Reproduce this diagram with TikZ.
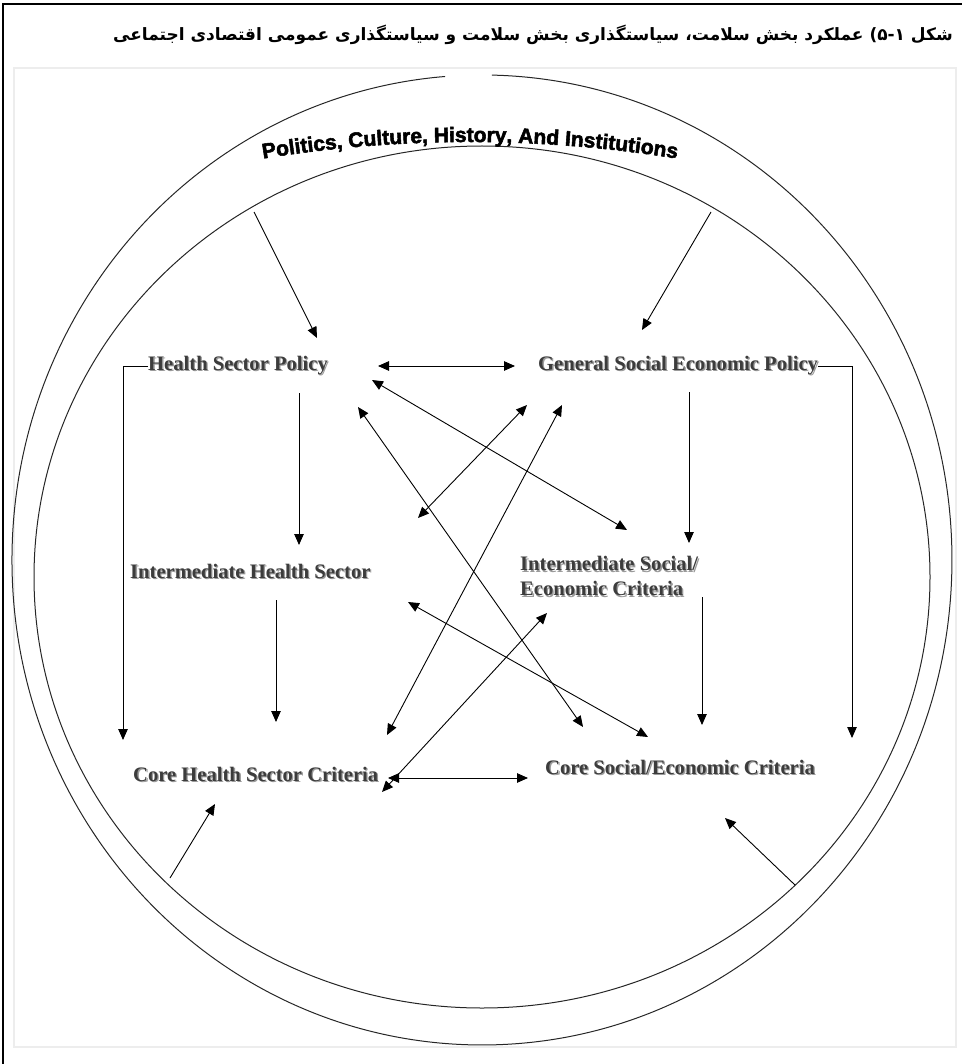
\documentclass[tikz,border=0pt]{standalone}
\usepackage{fontspec}
\setmainfont{Liberation Serif}
\newfontfamily\farsifont[Script=Arabic]{DejaVu Sans}
\newfontfamily\ringfont[FakeBold=2.5]{Liberation Sans}
\TeXXeTstate=1
\usetikzlibrary{arrows.meta,decorations.text}
\definecolor{hpink}{HTML}{000000}
\definecolor{hpgrey}{HTML}{3C3C3C}
\definecolor{hpshade}{HTML}{9A9A9A}
\definecolor{hppanel}{HTML}{EDEDED}
\newcommand\hpemboss[1]{\rlap{\kern1.3pt\raisebox{-1.3pt}{\color{hpshade}#1}}#1}
\tikzstyle{hplabel}=[text=hpgrey,font=\bfseries\fontsize{20.6}{25}\selectfont,inner sep=0pt,anchor=west,align=left]
\tikzstyle{hparrow}=[-{Triangle[length=11pt,width=9.5pt]},draw=hpink,line width=0.9pt]
\tikzstyle{hpboth}=[{Triangle[length=11pt,width=9.5pt]}-{Triangle[length=11pt,width=9.5pt]},draw=hpink,line width=0.9pt]
\tikzstyle{hpring}=[draw=black!85,line width=1pt]

\begin{document}
\begin{tikzpicture}[x=1pt,y=-1pt]
  \useasboundingbox (0,0) rectangle (962,1064);
  % ---- frame and caption ----
  \draw[line width=2pt] (3,1064) -- (3,4) -- (962,4);
  \draw[hppanel,line width=1.5pt] (14,68) rectangle (956,1047);
  \node[anchor=east,inner sep=0pt,font=\farsifont\bfseries\fontsize{17}{20}\selectfont] (cap) at (953,35)
    {\beginR شکل ۵-۱) عملکرد بخش سلامت، سیاستگذاری بخش سلامت و سیاستگذاری عمومی اقتصادی اجتماعی\endR};

  % ---- the two rings ----
  \draw[hpring] (491.8,75.1) arc[start angle=271.2,end angle=625.5,x radius=470,y radius=485];
  \draw[hpring] (482,577) ellipse[x radius=448,y radius=431];
  \path[decorate,decoration={text along path,text align=center,
      text={|\ringfont\bfseries\fontsize{21}{21}\selectfont|Politics, Culture, History, And Institutions}}]
    (210.8,168.1) arc[start angle=258.5,end angle=281.5,radius=1300];

  % ---- policy, intermediate and core labels ----
  \node[hplabel] (hsp)  at (148,366) {\hpemboss{Health Sector Policy}};
  \node[hplabel] (gsep) at (538,366) {\hpemboss{General Social Economic Policy}};
  \node[hplabel] (ihs)  at (130,572) {\hpemboss{Intermediate Health Sector}};
  \node[hplabel] (isec) at (520,577) {\hpemboss{Intermediate Social/}\\\hpemboss{Economic Criteria}};
  \node[hplabel] (chs)  at (133,775) {\hpemboss{Core Health Sector Criteria}};
  \node[hplabel] (cse)  at (545,768) {\hpemboss{Core Social/Economic Criteria}};

  % ---- connector ends ----
  \coordinate (rtl) at (254,212);   \coordinate (rtr) at (711,212);
  \coordinate (rbl) at (170,878);   \coordinate (rbr) at (795,885);
  \coordinate (hspT) at (317,338);  \coordinate (hspE) at (378,366);
  \coordinate (hspD1) at (372,380); \coordinate (hspD2) at (358,407);
  \coordinate (hspS) at (299,393);
  \coordinate (gsepT) at (642,330); \coordinate (gsepW) at (515,366);
  \coordinate (gsepD3) at (527,405);\coordinate (gsepD4) at (562,405);
  \coordinate (gsepS) at (689,392);
  \coordinate (ihsN) at (299,545);  \coordinate (ihsD3) at (418,518);
  \coordinate (ihsD6) at (408,602); \coordinate (ihsS) at (276,600);
  \coordinate (isecN) at (689,543); \coordinate (isecD1) at (627,530);
  \coordinate (isecD5) at (547,613);\coordinate (isecS) at (702,597);
  \coordinate (chsN) at (276,722);  \coordinate (chsW) at (123,740);
  \coordinate (chsE) at (388,778);  \coordinate (chsD4) at (387,735);
  \coordinate (chsD5) at (382,792); \coordinate (chsB) at (215,804);
  \coordinate (cseN) at (702,725);  \coordinate (cseW) at (528,778);
  \coordinate (cseD2) at (583,727); \coordinate (cseD6) at (648,737);
  \coordinate (cseE) at (852,738);  \coordinate (cseB) at (725,818);

  % ---- arrows ----
  \draw[hparrow] (rtl) -- (hspT);
  \draw[hparrow] (rtr) -- (gsepT);
  \draw[hparrow] (rbl) -- (chsB);
  \draw[hparrow] (rbr) -- (cseB);
  \draw[hparrow] (hsp.west) -- (chsW |- hsp.west) -- (chsW);
  \draw[hparrow] (gsep.east) -- (cseE |- gsep.east) -- (cseE);
  \draw[hparrow] (hspS) -- (ihsN);
  \draw[hparrow] (ihsS) -- (chsN);
  \draw[hparrow] (gsepS) -- (isecN);
  \draw[hparrow] (isecS) -- (cseN);
  \draw[hpboth] (hspE) -- (gsepW);
  \draw[hpboth] (chsE) -- (cseW);
  \foreach \a/\b in {hspD1/isecD1,hspD2/cseD2,gsepD3/ihsD3,gsepD4/chsD4,isecD5/chsD5,ihsD6/cseD6}
    {\draw[hpboth] (\a) -- (\b);}
\end{tikzpicture}
\end{document}
